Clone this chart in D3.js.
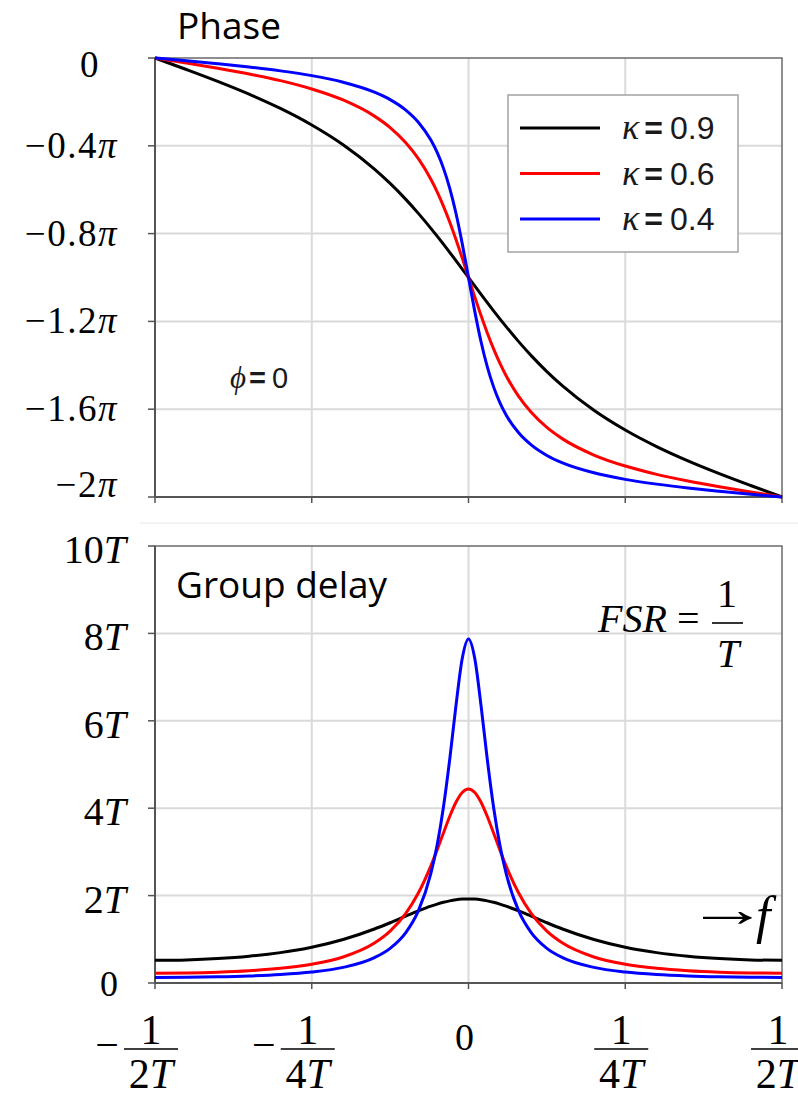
<!DOCTYPE html>
<html>
<head>
<meta charset="utf-8">
<script src="https://cdn.jsdelivr.net/npm/d3@7"></script>
<style>
body { margin: 0; background: #fff; }
svg { display: block; }
</style>
</head>
<body>
<div id="chart"></div>
<script>
//////////////////////////////////////////////////////////////////////////////
// Data (frequency in units of 1/T, phase in units of pi, delay in units of T)

var freq = [-0.5, -0.45, -0.4, -0.35, -0.3, -0.25, -0.2, -0.15, -0.125, -0.1, -0.08, -0.06,
            -0.05, -0.04, -0.03, -0.02, -0.01, 0, 0.01, 0.02, 0.03, 0.04, 0.05, 0.06,
            0.08, 0.1, 0.125, 0.15, 0.2, 0.25, 0.3, 0.35, 0.4, 0.45, 0.5];

var phase09 = [0, -0.0523, -0.1065, -0.1647, -0.2297, -0.3051, -0.3952, -0.5062, -0.5715, -0.6441,
               -0.7078, -0.7760, -0.8116, -0.8481, -0.8854, -0.9233, -0.9615, -1, -1.0385, -1.0767,
               -1.1146, -1.1519, -1.1884, -1.2240, -1.2922, -1.3559, -1.4285, -1.4938, -1.6048,
               -1.6949, -1.7703, -1.8353, -1.8935, -1.9477, -2];
var phase06 = [0, -0.0227, -0.0465, -0.0727, -0.1032, -0.1410, -0.1913, -0.2648, -0.3169, -0.3857,
               -0.4582, -0.5525, -0.6097, -0.6745, -0.7469, -0.8265, -0.9117, -1, -1.0883, -1.1735,
               -1.2531, -1.3255, -1.3903, -1.4475, -1.5418, -1.6143, -1.6831, -1.7352, -1.8087,
               -1.8590, -1.8968, -1.9273, -1.9535, -1.9773, -2];
var phase04 = [0, -0.0128, -0.0263, -0.0411, -0.0586, -0.0804, -0.1102, -0.1555, -0.1894, -0.2372,
               -0.2924, -0.3740, -0.4303, -0.5017, -0.5927, -0.7072, -0.8456, -1, -1.1544, -1.2928,
               -1.4073, -1.4983, -1.5697, -1.6260, -1.7076, -1.7628, -1.8106, -1.8445, -1.8898,
               -1.9196, -1.9414, -1.9589, -1.9737, -1.9872, -2];

var delay09 = [0.5195, 0.5289, 0.5584, 0.6115, 0.6948, 0.8182, 0.9950, 1.2358, 1.3787, 1.5298,
               1.6490, 1.7580, 1.8054, 1.8465, 1.8799, 1.9046, 1.9198, 1.9249, 1.9198, 1.9046,
               1.8799, 1.8465, 1.8054, 1.7580, 1.6490, 1.5298, 1.3787, 1.2358, 0.9950, 0.8182,
               0.6948, 0.6115, 0.5584, 0.5289, 0.5195];
var delay06 = [0.2251, 0.2305, 0.2476, 0.2799, 0.3350, 0.4286, 0.5946, 0.9139, 1.1868, 1.5929,
               2.0579, 2.6796, 3.0457, 3.4319, 3.8097, 4.1361, 4.3609, 4.4415, 4.3609, 4.1361,
               3.8097, 3.4319, 3.0457, 2.6796, 2.0579, 1.5929, 1.1868, 0.9139, 0.5946, 0.4286,
               0.3350, 0.2799, 0.2476, 0.2305, 0.2251];
var delay04 = [0.1270, 0.1301, 0.1402, 0.1593, 0.1924, 0.2500, 0.3567, 0.5802, 0.7928, 1.1538,
               1.6499, 2.5063, 3.1588, 4.0210, 5.1120, 6.3470, 7.4261, 7.8729, 7.4261, 6.3470,
               5.1120, 4.0210, 3.1588, 2.5063, 1.6499, 1.1538, 0.7928, 0.5802, 0.3567, 0.2500,
               0.1924, 0.1593, 0.1402, 0.1301, 0.1270];

var kappaLabels = ["0.9", "0.6", "0.4"];
var lineColors = ["#000000", "#ff0000", "#0000ff"];

var phaseTicks = [0, -0.4, -0.8, -1.2, -1.6, -2];
var phaseTickText = ["0", "\u22120.4", "\u22120.8", "\u22121.2", "\u22121.6", "\u22122"];
var delayTicks = [0, 2, 4, 6, 8, 10];
var delayTickText = ["0", "2", "4", "6", "8", "10"];
var freqTicks = [-0.5, -0.25, 0, 0.25, 0.5];
var freqTickDen = ["2", "4", "", "4", "2"];

//////////////////////////////////////////////////////////////////////////////
// Layout

var width = 798, height = 1094;
var plotLeft = 155, plotRight = 782;
var phaseTop = 58, phaseBottom = 497;
var delayTop = 546, delayBottom = 983;
var serif = "'Liberation Serif', 'Times New Roman', serif";
var sans = "'Open Sans', 'Noto Sans', sans-serif";
var arial = "'Liberation Sans', Arial, sans-serif";

var xScale = d3.scaleLinear().domain([-0.5, 0.5]).range([plotLeft, plotRight]);
var yPhase = d3.scaleLinear().domain([-2, 0]).range([phaseBottom, phaseTop]);
var yDelay = d3.scaleLinear().domain([0, 10]).range([delayBottom, delayTop]);

var series = kappaLabels.map(function(k, i) {
    return { k: k, color: lineColors[i],
             phase: [phase09, phase06, phase04][i],
             delay: [delay09, delay06, delay04][i] };
});

var svg = d3.select("#chart")
    .append("svg")
    .attr("width", width)
    .attr("height", height);

// faint separator between panels
svg.append("line")
    .attr("x1", 140).attr("x2", width)
    .attr("y1", 523).attr("y2", 523)
    .attr("stroke", "#efefef").attr("stroke-width", 1.5);

function drawPanel(yScale, yTicks, top, bottom)
{
    var g = svg.append("g");

    g.selectAll(".hgrid")
        .data(yTicks.filter(function(t) { return yScale(t) > top + 1 && yScale(t) < bottom - 1; }))
        .enter().append("line")
        .attr("x1", plotLeft).attr("x2", plotRight)
        .attr("y1", function(d) { return yScale(d); })
        .attr("y2", function(d) { return yScale(d); })
        .attr("stroke", "#dadada").attr("stroke-width", 2);

    g.selectAll(".vgrid")
        .data(freqTicks.slice(1, -1))
        .enter().append("line")
        .attr("x1", function(d) { return xScale(d); })
        .attr("x2", function(d) { return xScale(d); })
        .attr("y1", top).attr("y2", bottom)
        .attr("stroke", "#dadada").attr("stroke-width", 2);

    // frame
    g.append("rect")
        .attr("x", plotLeft).attr("y", top)
        .attr("width", plotRight - plotLeft).attr("height", bottom - top)
        .attr("fill", "none").attr("stroke", "#6a6a6a").attr("stroke-width", 1.5);

    // ticks
    g.selectAll(".ytick")
        .data(yTicks)
        .enter().append("line")
        .attr("x1", plotLeft - 7).attr("x2", plotLeft)
        .attr("y1", function(d) { return yScale(d); })
        .attr("y2", function(d) { return yScale(d); })
        .attr("stroke", "#555").attr("stroke-width", 1.5);

    g.selectAll(".xtick")
        .data(freqTicks)
        .enter().append("line")
        .attr("x1", function(d) { return xScale(d); })
        .attr("x2", function(d) { return xScale(d); })
        .attr("y1", bottom).attr("y2", bottom + 6)
        .attr("stroke", "#555").attr("stroke-width", 1.5);

    g.append("line")
        .attr("x1", plotLeft).attr("x2", plotLeft)
        .attr("y1", top).attr("y2", bottom)
        .attr("stroke", "#555").attr("stroke-width", 2);
    g.append("line")
        .attr("x1", plotLeft).attr("x2", plotRight)
        .attr("y1", bottom).attr("y2", bottom)
        .attr("stroke", "#555").attr("stroke-width", 2);
    return g;
}

function drawCurves(key, yScale)
{
    var line = d3.line()
        .x(function(d, i) { return xScale(freq[i]); })
        .y(function(d) { return yScale(d); })
        .curve(d3.curveMonotoneX);

    svg.append("g")
        .selectAll("path")
        .data(series)
        .enter().append("path")
        .attr("d", function(s) { return line(s[key]); })
        .attr("fill", "none")
        .attr("stroke", function(s) { return s.color; })
        .attr("stroke-width", 3)
        .attr("stroke-linejoin", "round");
}

drawPanel(yPhase, phaseTicks, phaseTop, phaseBottom);
drawPanel(yDelay, delayTicks, delayTop, delayBottom);
drawCurves("phase", yPhase);
drawCurves("delay", yDelay);

//////////////////////////////////////////////////////////////////////////////
// Legend

var legend = svg.append("g").attr("transform", "translate(508,95)");
legend.append("rect")
    .attr("width", 230).attr("height", 157)
    .attr("fill", "#fff").attr("stroke", "#a3a3a3").attr("stroke-width", 1.5);

var entry = legend.selectAll(".entry")
    .data(series)
    .enter().append("g")
    .attr("transform", function(d, i) { return "translate(0," + (33 + i * 45.5) + ")"; });
entry.append("line")
    .attr("x1", 12).attr("x2", 92)
    .attr("stroke", function(d) { return d.color; })
    .attr("stroke-width", 2.8);
var entryText = entry.append("text")
    .attr("x", 114).attr("y", 11)
    .attr("font-family", arial).attr("font-size", 32).attr("fill", "#1a1a1a");
entryText.append("tspan").attr("font-style", "italic").attr("font-family", serif).attr("font-size", 36).text("\u03ba");
entryText.append("tspan").attr("font-weight", "bold").attr("dx", 5).text("=");
entryText.append("tspan").attr("dx", 7).text(function(d) { return d.k; });

//////////////////////////////////////////////////////////////////////////////
// Titles and annotations

svg.append("text")
    .attr("x", 177).attr("y", 39)
    .attr("font-family", sans).attr("font-size", 37)
    .text("Phase");

svg.append("text")
    .attr("x", 176).attr("y", 598)
    .attr("font-family", sans).attr("font-size", 37)
    .text("Group delay");

var phiText = svg.append("text")
    .attr("x", 230).attr("y", 388)
    .attr("font-family", arial).attr("font-size", 29).attr("fill", "#1a1a1a");
phiText.append("tspan").attr("font-style", "italic").attr("font-family", serif).attr("font-size", 31).text("\u03d5");
phiText.append("tspan").attr("font-weight", "bold").attr("dx", 3).text("=");
phiText.append("tspan").attr("dx", 6).text("0");

var fsr = svg.append("g").attr("font-family", serif).attr("font-size", 40);
var fsrText = fsr.append("text").attr("x", 598).attr("y", 632);
fsrText.append("tspan").attr("font-style", "italic").text("FSR");
fsrText.append("tspan").text(" =");
fsr.append("line")
    .attr("x1", 712).attr("x2", 743).attr("y1", 623).attr("y2", 623)
    .attr("stroke", "#000").attr("stroke-width", 1.6);
fsr.append("text").attr("x", 727).attr("y", 607).attr("text-anchor", "middle").text("1");
fsr.append("text").attr("x", 728).attr("y", 667).attr("text-anchor", "middle")
    .attr("font-style", "italic").text("T");

svg.append("text")
    .attr("transform", "translate(686,926) scale(1.65,1)")
    .attr("font-family", serif).attr("font-size", 50)
    .text("\u2192");
svg.append("text")
    .attr("x", 756).attr("y", 933)
    .attr("font-family", serif).attr("font-size", 52).attr("font-style", "italic")
    .text("f");

//////////////////////////////////////////////////////////////////////////////
// Tick labels

// phase axis
var phaseLabel = svg.append("g")
    .selectAll("text")
    .data(phaseTicks)
    .enter().append("text")
    .attr("x", function(d) { return d === 0 ? 100 : 118; })
    .attr("y", function(d) {
        var c = Math.min(Math.max(yPhase(d), phaseTop + 7), phaseBottom - 12);
        return c + 12;
    })
    .attr("text-anchor", "end")
    .attr("font-family", serif).attr("font-size", 37)
    .attr("letter-spacing", 1.5);
phaseLabel.append("tspan").text(function(d, i) { return phaseTickText[i]; });
phaseLabel.append("tspan").attr("font-style", "italic")
    .text(function(d) { return d === 0 ? "" : "\u03c0"; });

// delay axis
var delayLabel = svg.append("g")
    .selectAll("text")
    .data(delayTicks)
    .enter().append("text")
    .attr("x", function(d) { return d === 0 ? 118 : 126; })
    .attr("y", function(d) { return yDelay(d) + (d === 0 ? 13 : 17); })
    .attr("text-anchor", "end")
    .attr("font-family", serif)
    .attr("font-size", function(d) { return d === 0 ? 36 : 40; });
delayLabel.append("tspan").text(function(d, i) { return delayTickText[i]; });
delayLabel.append("tspan").attr("font-style", "italic")
    .text(function(d) { return d === 0 ? "" : "T"; });

// frequency axis
var fLabel = svg.append("g")
    .selectAll("g")
    .data(freqTicks)
    .enter().append("g")
    .attr("transform", function(d) { return "translate(" + (xScale(d) - 4) + ",0)"; })
    .attr("font-family", serif).attr("font-size", 42);

fLabel.filter(function(d) { return d === 0; })
    .append("text")
    .attr("y", 1050).attr("text-anchor", "middle").attr("font-size", 38)
    .text("0");

var frac = fLabel.filter(function(d) { return d !== 0; });
frac.append("text")
    .attr("y", 1044).attr("text-anchor", "middle")
    .text("1");
frac.append("line")
    .attr("x1", -27).attr("x2", 27).attr("y1", 1049).attr("y2", 1049)
    .attr("stroke", "#000").attr("stroke-width", 1.6);
var den = frac.append("text")
    .attr("y", 1088).attr("text-anchor", "middle");
den.append("tspan").text(function(d, i) { return freqTickDen[freqTicks.indexOf(d)]; });
den.append("tspan").attr("font-style", "italic").text("T");
frac.filter(function(d) { return d < 0; })
    .append("text")
    .attr("x", -32).attr("y", 1059).attr("text-anchor", "end")
    .text("\u2212");
</script>
</body>
</html>
